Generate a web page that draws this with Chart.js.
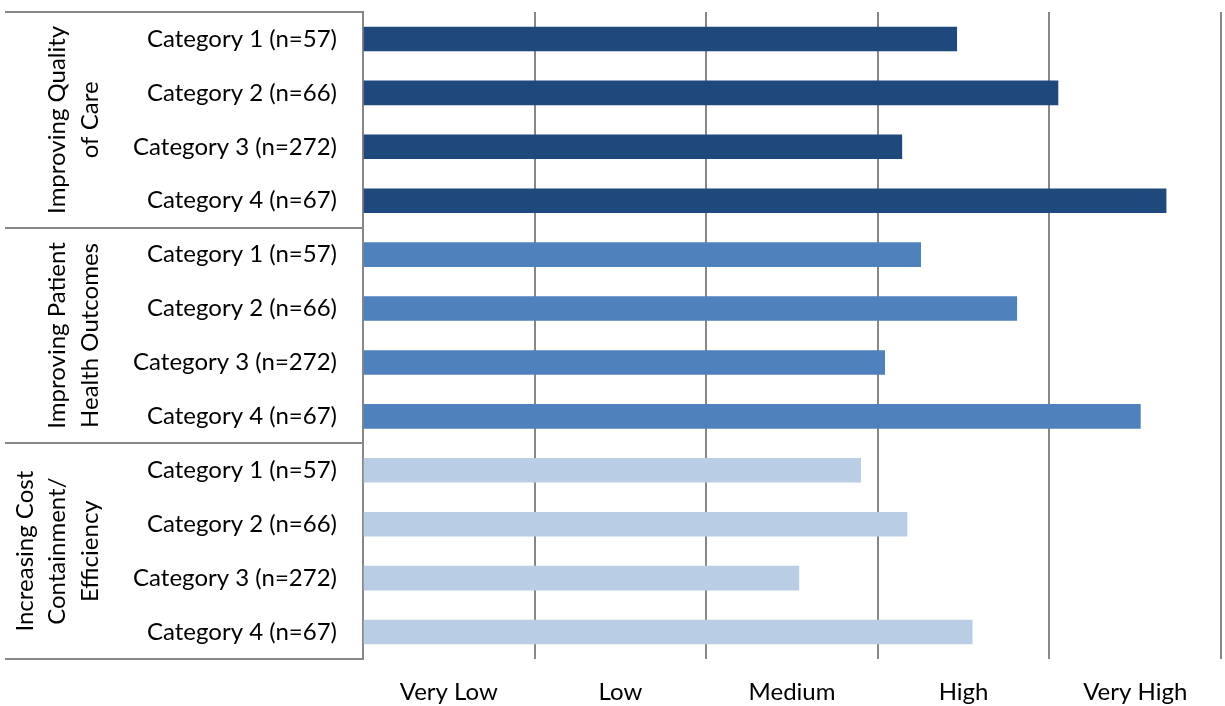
<!DOCTYPE html>
<html>
<head>
<meta charset="utf-8">
<script src="https://cdn.jsdelivr.net/npm/chart.js@4/dist/chart.umd.min.js"></script>
<style>
  html, body { margin: 0; padding: 0; background: #fff; }
  #wrap { width: 1225px; height: 706px; position: relative; }
</style>
</head>
<body>
<div id="wrap"><canvas id="chart"></canvas></div>
<script>
// Respondent categories (repeated under each goal)
const categories = ['Category 1 (n=57)', 'Category 2 (n=66)', 'Category 3 (n=272)', 'Category 4 (n=67)'];

// Goal headings, one entry per text line
const goalNames = [
  ['Improving Quality', 'of Care'],
  ['Improving Patient', 'Health Outcomes'],
  ['Increasing Cost', 'Containment/', 'Efficiency']
];

// Mean ratings on a 0–5 scale
const qualityOfCare   = [3.46, 4.05, 3.14, 4.68];
const patientOutcomes = [3.25, 3.81, 3.04, 4.53];
const costContainment = [2.90, 3.17, 2.54, 3.55];

// Rating band labels, one per unit of the scale
const ratingLabels = ['Very Low', 'Low', 'Medium', 'High', 'Very High'];

const goalColors = ['#1F497D', '#4F81BD', '#B9CDE5'];
const gridGray = '#878787';
const FONT = 'Lato, "Open Sans", sans-serif';
const FONT_SIZE = 24;

const groups = [qualityOfCare, patientOutcomes, costContainment];
const labels = [];
const values = [];
const colors = [];
groups.forEach((g, gi) => {
  g.forEach((v, i) => {
    labels.push(categories[i]);
    values.push(v);
    colors.push(goalColors[gi]);
  });
});

// Draws the boxed goal headings to the left of the category labels
const goalPanel = {
  id: 'goalPanel',
  afterDraw(chart) {
    const { ctx, chartArea } = chart;
    const per = categories.length;
    const step = (chartArea.bottom - chartArea.top) / labels.length;
    ctx.save();
    ctx.strokeStyle = gridGray;
    ctx.lineWidth = 2;
    const xLeft = 5;
    for (let gi = 0; gi <= goalNames.length; gi++) {
      const yy = Math.round(chartArea.top + gi * per * step);
      ctx.beginPath();
      ctx.moveTo(xLeft, yy);
      ctx.lineTo(chartArea.left, yy);
      ctx.stroke();
    }
    ctx.fillStyle = '#000';
    ctx.font = FONT_SIZE + 'px ' + FONT;
    ctx.textAlign = 'center';
    ctx.textBaseline = 'middle';
    const lastLineX = 90;
    const lineGap = 32.5;
    goalNames.forEach((lines, gi) => {
      const top = chartArea.top + gi * per * step;
      const cy = top + per * step / 2;
      ctx.save();
      ctx.translate(lastLineX, cy);
      ctx.rotate(-Math.PI / 2);
      lines.forEach((t, li) => {
        ctx.fillText(t, 0, (li - (lines.length - 1)) * lineGap);
      });
      ctx.restore();
    });
    ctx.restore();
  }
};

function clearScalePadding(scale) {
  scale.paddingTop = 0;
  scale.paddingBottom = 0;
  scale.paddingLeft = 0;
  scale.paddingRight = 0;
}

new Chart(document.getElementById('chart'), {
  type: 'bar',
  data: {
    labels: labels,
    datasets: [{
      data: values,
      backgroundColor: colors,
      borderWidth: 0,
      barThickness: 24
    }]
  },
  options: {
    indexAxis: 'y',
    responsive: true,
    maintainAspectRatio: false,
    animation: false,
    layout: { padding: { top: 12, right: 4, left: 0, bottom: 0 } },
    plugins: {
      legend: { display: false },
      tooltip: { enabled: false }
    },
    scales: {
      x: {
        min: 0,
        max: 5,
        afterBuildTicks(scale) {
          const t = [];
          for (let v = 0; v <= 5.0001; v += 0.5) t.push({ value: Math.round(v * 2) / 2 });
          scale.ticks = t;
        },
        afterFit(scale) { scale.height = 47; clearScalePadding(scale); },
        border: { display: false },
        grid: {
          drawTicks: false,
          lineWidth: 2,
          color: (c) => (c.tick && Number.isInteger(c.tick.value)) ? gridGray : 'rgba(0,0,0,0)'
        },
        ticks: {
          autoSkip: false,
          maxRotation: 0,
          padding: 19,
          color: '#000',
          font: { family: FONT, size: FONT_SIZE },
          callback: (v) => Number.isInteger(v) ? '' : ratingLabels[Math.floor(v)]
        }
      },
      y: {
        afterFit(scale) { scale.width = 363; clearScalePadding(scale); },
        border: { display: true, color: gridGray, width: 2 },
        grid: { display: false, drawTicks: false },
        ticks: {
          padding: 26,
          color: '#000',
          font: { family: FONT, size: FONT_SIZE }
        }
      }
    }
  },
  plugins: [goalPanel]
});
</script>
</body>
</html>
